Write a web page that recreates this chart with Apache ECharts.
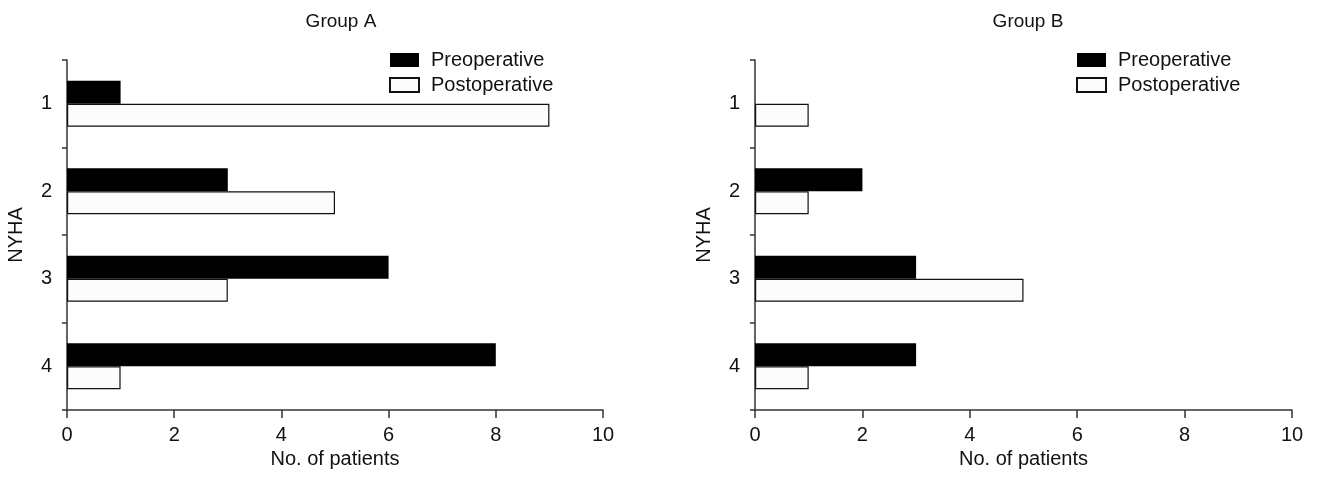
<!DOCTYPE html>
<html>
<head>
<meta charset="utf-8">
<script src="https://cdn.jsdelivr.net/npm/echarts@6/dist/echarts.min.js"></script>
<style>
  html, body { margin: 0; padding: 0; background: #fff; }
  #chart { width: 1317px; height: 482px; }
</style>
</head>
<body>
<div id="chart"></div>
<script>
const nyha = ['1', '2', '3', '4'];
const groupAPre = [1, 3, 6, 8];
const groupAPost = [9, 5, 3, 1];
const groupBPre = [0, 2, 3, 3];
const groupBPost = [1, 1, 5, 1];
const xTicks = [0, 2, 4, 6, 8, 10];

const font = 'Liberation Sans, Arial, sans-serif';
const axisColor = '#333';
const textColor = '#111';

function xAxisFor(gridIndex) {
  return {
    type: 'value', gridIndex: gridIndex, min: xTicks[0], max: xTicks[xTicks.length - 1], interval: 2,
    name: 'No. of patients', nameLocation: 'middle', nameGap: 39,
    nameTextStyle: { fontFamily: font, fontSize: 20, color: textColor },
    axisLine: { show: true, lineStyle: { color: axisColor, width: 1.5 } },
    axisTick: { show: true, length: 8, lineStyle: { color: axisColor, width: 1.5 } },
    axisLabel: { fontFamily: font, fontSize: 20, color: textColor, margin: 15 },
    splitLine: { show: false }
  };
}

function yAxisFor(gridIndex) {
  return {
    type: 'category', gridIndex: gridIndex, data: nyha, inverse: true,
    name: 'NYHA', nameLocation: 'middle', nameGap: 41, nameRotate: 90,
    nameTextStyle: { fontFamily: font, fontSize: 20, color: textColor },
    axisLine: { show: true, lineStyle: { color: axisColor, width: 1.5 } },
    axisTick: { show: true, length: 5, lineStyle: { color: axisColor, width: 1.5 } },
    axisLabel: { fontFamily: font, fontSize: 20, color: textColor, margin: 15 }
  };
}

const preStyle = { color: '#000', borderWidth: 0 };
const postStyle = { color: '#fcfcfc', borderColor: '#111', borderWidth: 1.2 };

function bars(name, data, idx, style) {
  return {
    name: name, type: 'bar', xAxisIndex: idx, yAxisIndex: idx, data: data,
    barWidth: 23, barGap: '0%', itemStyle: style
  };
}

function legendAt(left) {
  return {
    orient: 'vertical', left: left, top: 45, icon: 'rect',
    itemWidth: 29, itemHeight: 14, itemGap: 5, selectedMode: false,
    data: ['Preoperative', 'Postoperative'],
    textStyle: { fontFamily: font, fontSize: 20, color: textColor, padding: [0, 0, 0, 7] }
  };
}

function titleAt(text, left) {
  return {
    text: text, left: left, top: 7, textAlign: 'center',
    textStyle: { fontFamily: font, fontSize: 19, fontWeight: 'normal', color: textColor }
  };
}

const chart = echarts.init(document.getElementById('chart'));
chart.setOption({
  animation: false,
  title: [titleAt('Group A', 336), titleAt('Group B', 1023)],
  legend: [legendAt(384), legendAt(1071)],
  grid: [
    { left: 67, right: 714, top: 60, bottom: 72 },
    { left: 755, right: 25, top: 60, bottom: 72 }
  ],
  xAxis: [xAxisFor(0), xAxisFor(1)],
  yAxis: [yAxisFor(0), yAxisFor(1)],
  series: [
    bars('Preoperative', groupAPre, 0, preStyle),
    bars('Postoperative', groupAPost, 0, postStyle),
    bars('Preoperative', groupBPre, 1, preStyle),
    bars('Postoperative', groupBPost, 1, postStyle)
  ]
});
</script>
</body>
</html>
